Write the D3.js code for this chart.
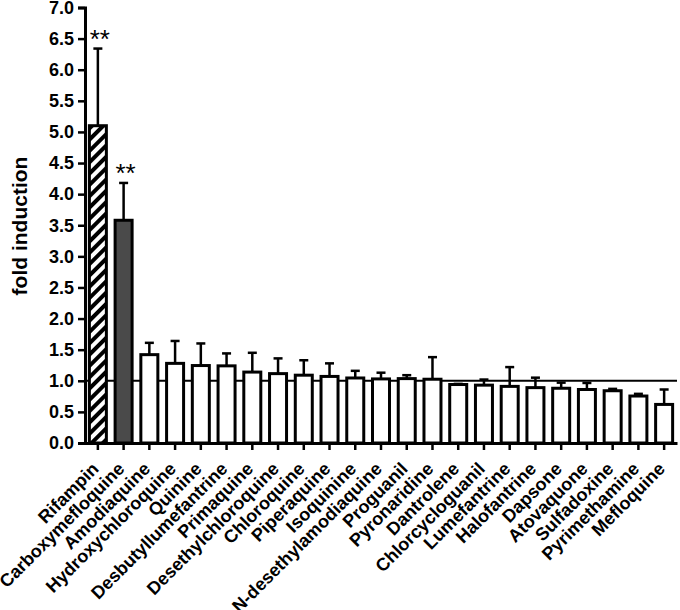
<!DOCTYPE html>
<html>
<head>
<meta charset="utf-8">
<script src="https://cdn.jsdelivr.net/npm/d3@7"></script>
<style>
  body { margin: 0; background: #fff; }
  text { font-family: "Liberation Sans", Arial, sans-serif; }
</style>
</head>
<body>
<svg id="chart" width="680" height="610"></svg>
<script>
//
// Data
//
const drugs = ["Rifampin", "Carboxymefloquine", "Amodiaquine", "Hydroxychloroquine", "Quinine",
  "Desbutyllumefantrine", "Primaquine", "Desethylchloroquine", "Chloroquine", "Piperaquine",
  "Isoquinine", "N-desethylamodiaquine", "Proguanil", "Pyronaridine", "Dantrolene",
  "Chlorcycloguanil", "Lumefantrine", "Halofantrine", "Dapsone", "Atovaquone",
  "Sulfadoxine", "Pyrimethamine", "Mefloquine"];
const meanFold = [5.10, 3.58, 1.42, 1.28, 1.245, 1.24, 1.14, 1.115, 1.09, 1.07,
  1.045, 1.03, 1.035, 1.025, 0.94, 0.93, 0.91, 0.89, 0.88, 0.86, 0.84, 0.755, 0.62];
const errTop = [6.34, 4.18, 1.61, 1.64, 1.60, 1.44, 1.45, 1.36, 1.33, 1.28,
  1.16, 1.13, 1.09, 1.38, 0.95, 1.02, 1.22, 1.05, 0.97, 0.965, 0.87, 0.79, 0.86];
// which bar gets which fill
const barKind = ["hatch", "dark"];
const stars = ["**", "**"];
const yTicks = d3.range(0, 7.01, 0.5);
const baseline = 1.0;

//
// Layout
//
const svg = d3.select("#chart");
const mLeft = 85, mRight = 677, mTop = 7.5, mBottom = 443;
const barW = 17;

const x = d3.scaleBand().domain(drugs).range([mLeft, mRight]);
const y = d3.scaleLinear().domain([0, 7]).range([mBottom, mTop]);
const cx = d => x(d) + x.bandwidth() / 2;

const defs = svg.append("defs");
const pat = defs.append("pattern")
  .attr("id", "hatch")
  .attr("patternUnits", "userSpaceOnUse")
  .attr("width", 8).attr("height", 8)
  .attr("patternTransform", "rotate(45)");
pat.append("rect").attr("width", 8).attr("height", 8).attr("fill", "#fff");
pat.append("rect").attr("width", 4).attr("height", 8).attr("fill", "#000");

// reference line at 1.0 (behind bars)
svg.append("line")
  .attr("x1", mLeft).attr("x2", mRight)
  .attr("y1", y(baseline)).attr("y2", y(baseline))
  .attr("stroke", "#000").attr("stroke-width", 2);

// error bars (positive only)
const eb = svg.append("g").attr("stroke", "#000").attr("stroke-width", 2.5);
drugs.forEach((d, i) => {
  eb.append("line").attr("x1", cx(d)).attr("x2", cx(d))
    .attr("y1", y(meanFold[i])).attr("y2", y(errTop[i]));
  eb.append("line").attr("x1", cx(d) - 4.5).attr("x2", cx(d) + 4.5)
    .attr("y1", y(errTop[i])).attr("y2", y(errTop[i]));
});

// bars
svg.append("g").selectAll("rect")
  .data(drugs)
  .join("rect")
  .attr("x", d => cx(d) - barW / 2)
  .attr("width", barW)
  .attr("y", (d, i) => y(meanFold[i]))
  .attr("height", (d, i) => y(0) - y(meanFold[i]))
  .attr("fill", (d, i) => barKind[i] === "hatch" ? "url(#hatch)" : barKind[i] === "dark" ? "#4a4a4a" : "#fff")
  .attr("stroke", "#000")
  .attr("stroke-width", 3);

// significance stars
stars.forEach((s, i) => {
  svg.append("text")
    .attr("x", cx(drugs[i]) + 2)
    .attr("y", y(errTop[i]) - 1)
    .attr("text-anchor", "middle")
    .attr("font-size", 26)
    .text(s);
});

// y axis
const yAxis = svg.append("g")
  .attr("transform", `translate(${mLeft},0)`)
  .call(d3.axisLeft(y).tickValues(yTicks).tickFormat(d3.format(".1f")).tickSize(7).tickPadding(4));
yAxis.select(".domain").attr("stroke-width", 3);
yAxis.selectAll(".tick line").attr("stroke-width", 2.5);
yAxis.selectAll("text").attr("font-size", 18).attr("font-weight", "bold").attr("fill", "#000");

// x axis
const xAxis = svg.append("g")
  .attr("transform", `translate(0,${mBottom})`)
  .call(d3.axisBottom(x).tickSize(7).tickSizeOuter(0));
xAxis.select(".domain").attr("stroke-width", 3);
xAxis.selectAll(".tick line").attr("stroke-width", 2.5);
xAxis.selectAll("text")
  .attr("font-size", 18).attr("font-weight", "bold").attr("fill", "#000")
  .attr("text-anchor", "end")
  .attr("x", 0).attr("y", 0).attr("dx", 0).attr("dy", 0)
  .attr("transform", "translate(2,27) rotate(-45)");

// y label
svg.append("text")
  .attr("transform", "translate(27,226) rotate(-90)")
  .attr("text-anchor", "middle")
  .attr("font-size", 21)
  .attr("font-weight", "bold")
  .text("fold induction");
</script>
</body>
</html>
